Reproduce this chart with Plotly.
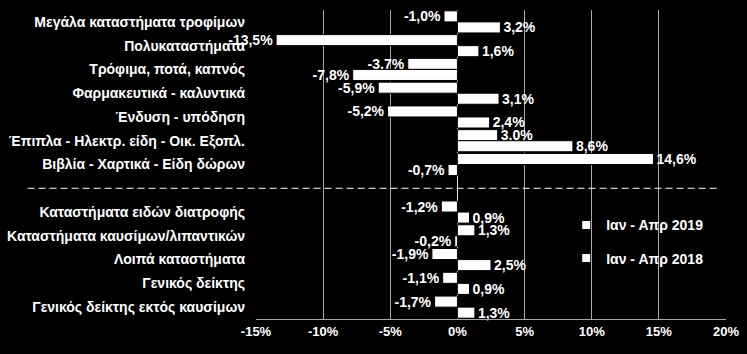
import plotly.graph_objects as go

categories = [
    "Μεγάλα καταστήματα τροφίμων",
    "Πολυκαταστήματα",
    "Τρόφιμα, ποτά, καπνός",
    "Φαρμακευτικά - καλυντικά",
    "Ένδυση - υπόδηση",
    "Έπιπλα - Ηλεκτρ. είδη - Οικ. Εξοπλ.",
    "Βιβλία - Χαρτικά - Είδη δώρων",
    "",
    "Καταστήματα ειδών διατροφής",
    "Καταστήματα καυσίμων/λιπαντικών",
    "Λοιπά καταστήματα",
    "Γενικός δείκτης",
    "Γενικός δείκτης εκτός καυσίμων",
]
series_names = ["Ιαν - Απρ 2019", "Ιαν - Απρ 2018"]
values_2019 = [-1.0, -13.5, -3.7, -5.9, -5.2, 3.0, 14.6, None, -1.2, 1.3, -1.9, -1.1, -1.7]
values_2018 = [3.2, 1.6, -7.8, 3.1, 2.4, 8.6, -0.7, None, 0.9, -0.2, 2.5, 0.9, 1.3]
x_ticks = [-15, -10, -5, 0, 5, 10, 15, 20]
separator_index = categories.index("")

FONT = "Liberation Sans, Arial, sans-serif"
positions = list(range(len(categories)))


def fmt(v):
    return "" if v is None else f"{v:.1f}%".replace(".", ",")


fig = go.Figure()
for name, vals in zip(series_names, [values_2019, values_2018]):
    fig.add_trace(go.Bar(
        name=name, orientation="h", y=positions, x=vals,
        marker=dict(color="white", line=dict(color="black", width=1)),
        text=[fmt(v) for v in vals], textposition="outside",
        textfont=dict(family=FONT, size=14, color="white", weight="bold"),
        constraintext="none", cliponaxis=False, showlegend=False,
    ))
    fig.add_trace(go.Scatter(
        name=name, x=[None], y=[None], mode="markers",
        marker=dict(symbol="square", size=8, color="white"),
        showlegend=True, legendgroup=name,
    ))

fig.add_shape(type="line", xref="paper", yref="y",
              x0=-0.486, x1=0.985, y0=separator_index, y1=separator_index,
              line=dict(color="white", width=1, dash="7px,4px"))

fig.update_layout(
    width=747, height=354,
    margin=dict(l=256, r=21, t=10, b=35, autoexpand=False),
    paper_bgcolor="black", plot_bgcolor="black",
    barmode="group", bargap=0.07, bargroupgap=0,
    font=dict(family=FONT, size=14, color="white", weight="bold"),
    showlegend=True,
    legend=dict(x=0.66, y=0.355, xanchor="left", yanchor="top",
                bgcolor="rgba(0,0,0,0)", tracegroupgap=12,
                font=dict(family=FONT, size=14, color="white", weight="bold")),
    xaxis=dict(range=[-15, 20], tickvals=x_ticks,
               ticktext=[f"{t}%" for t in x_ticks], automargin=False,
               showgrid=True, gridcolor="#a8a8a8", gridwidth=1,
               zeroline=True, zerolinecolor="#e8e8e8", zerolinewidth=1,
               showline=True, linecolor="#a8a8a8", linewidth=1,
               ticks="", tickfont=dict(family=FONT, size=13, color="white", weight="bold")),
    yaxis=dict(range=[len(categories) - 0.5, -0.5], tickvals=positions,
               ticktext=categories, showgrid=False, zeroline=False, automargin=False,
               showline=False, ticks="", ticklabelstandoff=10,
               tickfont=dict(family=FONT, size=14, color="white", weight="bold")),
)

fig.write_html("out.html")
